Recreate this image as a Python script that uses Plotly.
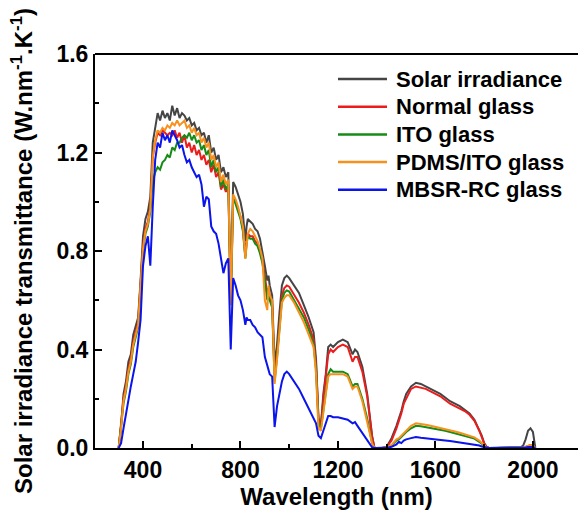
import plotly.graph_objects as go

wavelength = [
    300, 310, 320, 330, 340, 350, 360, 370, 380, 390,
    400, 410, 420, 430, 440, 450, 460, 470, 480, 490,
    500, 510, 520, 530, 540, 550, 560, 570, 580, 590,
    600, 610, 620, 630, 640, 650, 660, 670, 680, 690,
    700, 710, 720, 730, 740, 750, 760, 765, 770, 780,
    790, 800, 810, 820, 825, 830, 840, 850, 860, 870,
    880, 890, 900, 910, 915, 920, 930, 940, 950, 960,
    970, 980, 990, 1000, 1020, 1040, 1060, 1080, 1100, 1110,
    1120, 1130, 1140, 1150, 1160, 1170, 1180, 1200, 1220, 1240,
    1260, 1270, 1280, 1300, 1320, 1340, 1350, 1360, 1380, 1400,
    1420, 1440, 1450, 1460, 1470, 1480, 1500, 1520, 1540, 1560,
    1580, 1600, 1620, 1640, 1660, 1680, 1700, 1720, 1740, 1760,
    1780, 1790, 1800, 1810, 1820, 1850, 1900, 1940, 1950, 1960,
    1970, 1980, 1990, 2000, 2005, 2010,
]

solar_irradiance = [
    0.0, 0.09, 0.22, 0.27, 0.35, 0.38, 0.46, 0.50, 0.53, 0.68,
    0.86, 0.93, 0.96, 1.02, 1.24, 1.30, 1.36, 1.33, 1.37, 1.34,
    1.36, 1.33, 1.39, 1.35, 1.38, 1.34, 1.36, 1.35, 1.33, 1.34,
    1.31, 1.32, 1.29, 1.30, 1.27, 1.28, 1.24, 1.27, 1.20, 1.22,
    1.17, 1.19, 1.12, 1.14, 1.10, 1.12, 0.62, 0.85, 1.08, 1.06,
    1.03, 1.00, 0.95, 0.84, 0.90, 0.93, 0.92, 0.91, 0.89, 0.88,
    0.85, 0.80, 0.74, 0.68, 0.70, 0.66, 0.62, 0.34, 0.42, 0.55,
    0.66, 0.69, 0.70, 0.69, 0.66, 0.63, 0.58, 0.53, 0.47, 0.36,
    0.12, 0.09, 0.22, 0.30, 0.41, 0.42, 0.41, 0.43, 0.44, 0.43,
    0.38, 0.40, 0.39, 0.33, 0.22, 0.05, 0.0, 0.0, 0.0, 0.005,
    0.04, 0.09, 0.12, 0.15, 0.19, 0.22, 0.25, 0.265, 0.26, 0.25,
    0.24, 0.23, 0.22, 0.205, 0.19, 0.18, 0.17, 0.155, 0.14, 0.115,
    0.075, 0.05, 0.02, 0.005, 0.0, 0.0, 0.0, 0.0, 0.003, 0.01,
    0.035, 0.07, 0.08, 0.065, 0.02, 0.0,
]

normal_glass = [
    0.0, 0.09, 0.20, 0.25, 0.32, 0.36, 0.43, 0.47, 0.51, 0.67,
    0.82, 0.89, 0.92, 0.98, 1.18, 1.24, 1.28, 1.27, 1.29, 1.28,
    1.27, 1.28, 1.27, 1.29, 1.26, 1.28, 1.24, 1.27, 1.22, 1.24,
    1.20, 1.23, 1.19, 1.21, 1.17, 1.19, 1.15, 1.17, 1.12, 1.15,
    1.10, 1.12, 1.05, 1.07, 1.04, 1.06, 0.60, 0.80, 1.02, 1.00,
    0.97, 0.94, 0.89, 0.78, 0.84, 0.87, 0.86, 0.86, 0.84, 0.83,
    0.80, 0.76, 0.70, 0.62, 0.65, 0.62, 0.58, 0.30, 0.38, 0.52,
    0.62, 0.65, 0.66, 0.655, 0.625, 0.59, 0.55, 0.50, 0.44, 0.34,
    0.12, 0.09, 0.20, 0.28, 0.38, 0.40, 0.39, 0.41, 0.42, 0.41,
    0.35, 0.37, 0.37, 0.31, 0.21, 0.045, 0.0, 0.0, 0.0, 0.005,
    0.03, 0.08, 0.11, 0.14, 0.18, 0.20, 0.24, 0.25, 0.245, 0.24,
    0.23, 0.22, 0.21, 0.195, 0.18, 0.17, 0.16, 0.15, 0.135, 0.11,
    0.07, 0.045, 0.018, 0.004, 0.0, 0.0, 0.0, 0.0, 0.0, 0.002,
    0.004, 0.008, 0.012, 0.01, 0.004, 0.0,
]

ito_glass = [
    0.0, 0.08, 0.18, 0.23, 0.30, 0.34, 0.41, 0.45, 0.49, 0.65,
    0.80, 0.87, 0.90, 0.96, 1.08, 1.12, 1.14, 1.13, 1.16, 1.17,
    1.19, 1.18, 1.22, 1.21, 1.24, 1.24, 1.26, 1.27, 1.26, 1.28,
    1.25, 1.27, 1.24, 1.25, 1.21, 1.23, 1.19, 1.21, 1.14, 1.17,
    1.12, 1.14, 1.06, 1.09, 1.05, 1.07, 0.59, 0.79, 1.02, 0.99,
    0.96, 0.93, 0.88, 0.77, 0.83, 0.86, 0.85, 0.85, 0.83, 0.82,
    0.79, 0.75, 0.68, 0.60, 0.63, 0.60, 0.57, 0.27, 0.37, 0.50,
    0.60, 0.63, 0.64, 0.635, 0.60, 0.57, 0.53, 0.48, 0.42, 0.32,
    0.10, 0.08, 0.16, 0.22, 0.30, 0.32, 0.31, 0.31, 0.31, 0.30,
    0.25, 0.26, 0.26, 0.20, 0.12, 0.02, 0.0, 0.0, 0.0, 0.002,
    0.01, 0.03, 0.035, 0.045, 0.055, 0.065, 0.08, 0.09, 0.088, 0.085,
    0.082, 0.078, 0.074, 0.07, 0.065, 0.06, 0.055, 0.05, 0.045, 0.038,
    0.025, 0.016, 0.006, 0.001, 0.0, 0.0, 0.0, 0.0, 0.0, 0.001,
    0.003, 0.006, 0.008, 0.007, 0.003, 0.0,
]

pdms_ito_glass = [
    0.0, 0.08, 0.19, 0.24, 0.31, 0.35, 0.42, 0.46, 0.50, 0.66,
    0.81, 0.88, 0.91, 0.97, 1.18, 1.25, 1.29, 1.28, 1.30, 1.29,
    1.31, 1.30, 1.32, 1.31, 1.33, 1.31, 1.32, 1.33, 1.30, 1.31,
    1.28, 1.30, 1.27, 1.28, 1.24, 1.26, 1.22, 1.24, 1.17, 1.19,
    1.14, 1.16, 1.08, 1.11, 1.07, 1.09, 0.58, 0.78, 1.03, 1.01,
    0.98, 0.94, 0.90, 0.77, 0.84, 0.87, 0.89, 0.88, 0.86, 0.84,
    0.81, 0.77, 0.60, 0.56, 0.66, 0.62, 0.60, 0.26, 0.36, 0.49,
    0.59, 0.61, 0.62, 0.62, 0.59, 0.55, 0.51, 0.46, 0.41, 0.30,
    0.08, 0.07, 0.15, 0.21, 0.29, 0.30, 0.30, 0.30, 0.30, 0.29,
    0.24, 0.25, 0.25, 0.19, 0.11, 0.02, 0.0, 0.0, 0.0, 0.002,
    0.012, 0.035, 0.04, 0.05, 0.06, 0.07, 0.09, 0.10, 0.098, 0.094,
    0.09, 0.086, 0.082, 0.077, 0.072, 0.067, 0.062, 0.056, 0.05, 0.043,
    0.03, 0.02, 0.008, 0.002, 0.0, 0.0, 0.0, 0.0, 0.0, 0.002,
    0.005, 0.009, 0.012, 0.01, 0.004, 0.0,
]

mbsr_rc_glass = [
    0.0, 0.02, 0.08, 0.14, 0.20, 0.25, 0.30, 0.35, 0.43, 0.52,
    0.74, 0.82, 0.86, 0.74, 0.98, 1.17, 1.24, 1.22, 1.28, 1.25,
    1.27, 1.24, 1.29, 1.27, 1.25, 1.22, 1.23, 1.19, 1.16, 1.17,
    1.14, 1.12, 1.10, 1.11, 1.07, 0.98, 1.02, 1.01, 0.90, 0.88,
    0.87, 0.83, 0.76, 0.71, 0.75, 0.77, 0.40, 0.58, 0.69, 0.66,
    0.62, 0.60, 0.56, 0.50, 0.53, 0.52, 0.52, 0.50, 0.49, 0.47,
    0.46, 0.45, 0.37, 0.33, 0.32, 0.30, 0.29, 0.085, 0.17, 0.22,
    0.27, 0.30, 0.31, 0.30, 0.27, 0.24, 0.20, 0.16, 0.12, 0.10,
    0.05, 0.04, 0.07, 0.10, 0.13, 0.13, 0.125, 0.125, 0.12, 0.115,
    0.10, 0.105, 0.09, 0.06, 0.03, 0.003, 0.0, 0.0, 0.0, 0.0,
    0.005, 0.015, 0.025, 0.02, 0.03, 0.035, 0.04, 0.045, 0.042, 0.039,
    0.036, 0.034, 0.032, 0.03, 0.028, 0.025, 0.023, 0.021, 0.018, 0.015,
    0.01, 0.006, 0.003, 0.0, 0.0, 0.0, 0.0, 0.0, 0.0, 0.001,
    0.002, 0.004, 0.005, 0.004, 0.002, 0.0,
]

series_names = ["Solar irradiance", "Normal glass", "ITO glass", "PDMS/ITO glass", "MBSR-RC glass"]
series_values = [solar_irradiance, normal_glass, ito_glass, pdms_ito_glass, mbsr_rc_glass]
series_colors = ["#454545", "#ec1c1c", "#168c16", "#f8901e", "#0a14eb"]

x_ticks = [400, 800, 1200, 1600, 2000]
y_ticks = [0.0, 0.4, 0.8, 1.2, 1.6]

FONT = "Arial, Liberation Sans, sans-serif"

fig = go.Figure()
for name, vals, col in zip(series_names, series_values, series_colors):
    fig.add_trace(go.Scatter(x=wavelength, y=vals, mode="lines", name=name,
                             line=dict(color=col, width=2), showlegend=False))

W, H = 578, 515
ml, mr, mt, mb = 95, 0, 54, 67
pw, ph = W - ml - mr, H - mt - mb

fig.update_layout(
    width=W, height=H,
    margin=dict(l=ml, r=mr, t=mt, b=mb),
    paper_bgcolor="white", plot_bgcolor="white",
    font=dict(family=FONT, color="black"),
    xaxis=dict(range=[203, 2185], tickvals=x_ticks, ticktext=[str(v) for v in x_ticks],
               ticks="inside", ticklen=7, tickwidth=2, tickcolor="black",
               minor=dict(ticks="inside", ticklen=4, tickwidth=1.5, tickcolor="black", dtick=200, tick0=0),
               showline=True, linewidth=2, linecolor="black", mirror=False,
               showgrid=False, zeroline=False,
               tickfont=dict(size=23, family=FONT, weight="bold"),
               title=dict(text="Wavelength (nm)", font=dict(size=24, family=FONT, weight="bold"), standoff=6)),
    yaxis=dict(range=[0, 1.6], tickvals=y_ticks, ticktext=["%.1f" % v for v in y_ticks],
               ticks="inside", ticklen=7, tickwidth=2, tickcolor="black",
               minor=dict(ticks="inside", ticklen=4, tickwidth=1.5, tickcolor="black", dtick=0.2, tick0=0),
               showline=True, linewidth=2, linecolor="black", mirror=False,
               showgrid=False, zeroline=False,
               tickfont=dict(size=23, family=FONT, weight="bold")),
)

# top frame line
fig.add_shape(type="line", xref="paper", yref="paper", x0=0, x1=1, y0=1, y1=1,
              line=dict(color="black", width=2))

# y-axis title as rotated annotation
fig.add_annotation(text="Solar irradiance transmittance (W.nm<sup>-1</sup>.K<sup>-1</sup>)",
                   xref="paper", yref="paper", x=(22 - ml) / pw, y=0.5,
                   xanchor="center", yanchor="middle", textangle=-90, showarrow=False,
                   font=dict(size=24, family=FONT, weight="bold", color="black"))

# manual legend
leg_x0, leg_x1, leg_tx = 338, 387, 394
leg_y0, leg_dy = 79, 27.7
for i, (name, col) in enumerate(zip(series_names, series_colors)):
    py = leg_y0 + i * leg_dy
    yp = (H - mb - py) / ph
    fig.add_shape(type="line", xref="paper", yref="paper",
                  x0=(leg_x0 - ml) / pw, x1=(leg_x1 - ml) / pw, y0=yp, y1=yp,
                  line=dict(color=col, width=2.5))
    fig.add_annotation(text=name, xref="paper", yref="paper", x=(leg_tx - ml) / pw, y=yp,
                       xanchor="left", yanchor="middle", showarrow=False,
                       font=dict(size=22, family=FONT, weight="bold", color="black"))

fig.write_html("out.html")
